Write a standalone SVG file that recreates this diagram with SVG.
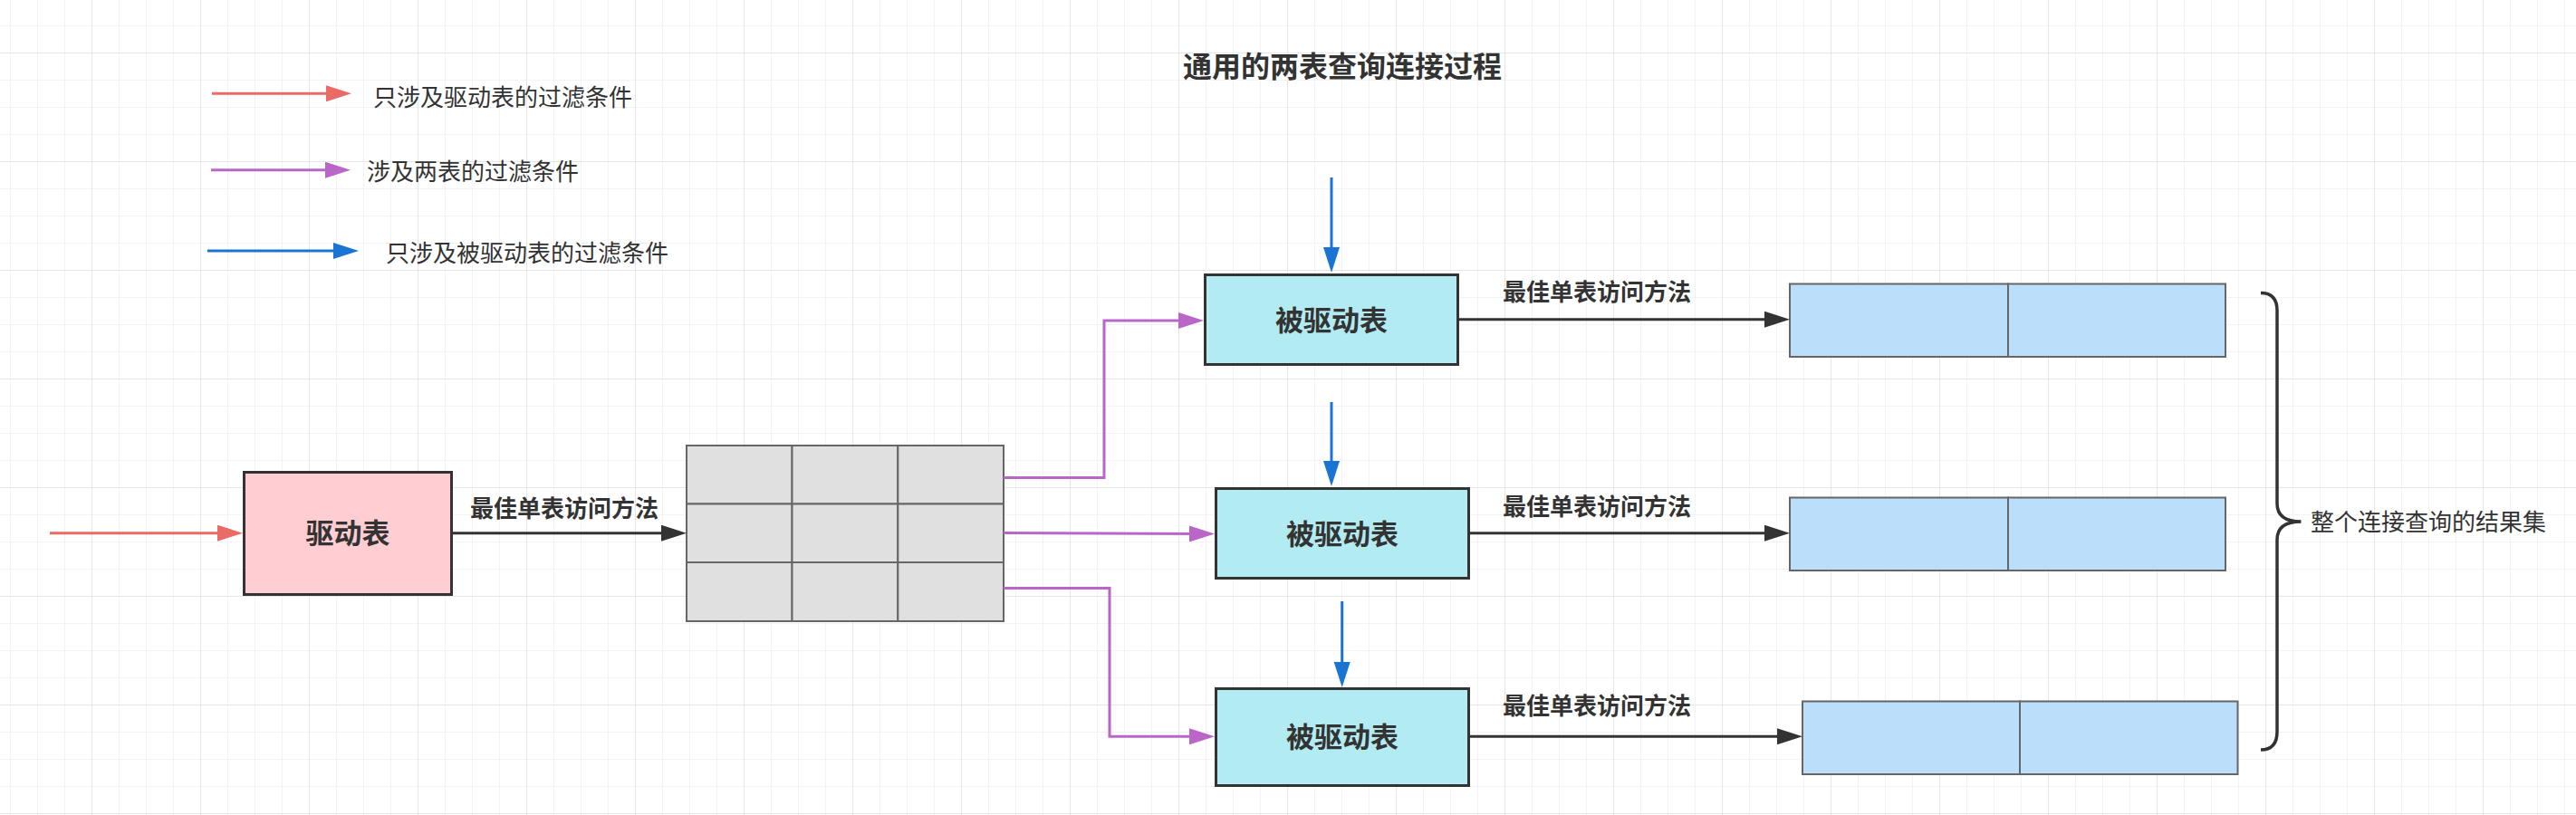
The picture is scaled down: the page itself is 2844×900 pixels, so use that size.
<svg xmlns="http://www.w3.org/2000/svg" width="2844" height="900" viewBox="0 0 2844 900">
<style>
text{font-family:"Noto Sans CJK SC","Noto Sans",sans-serif;fill:#333333}
.t26{font-size:26px}
.b26{font-size:26px;font-weight:700}
.b31{font-size:31px;font-weight:700;text-anchor:middle}
.title{font-size:32px;font-weight:700;text-anchor:middle}
.node{stroke:#333333;stroke-width:3}
.cell{fill:#e0e0e0;stroke:#666666;stroke-width:2}
.res{fill:#bbdefb;stroke:#666666;stroke-width:2}
.red{fill:none;stroke:#ea6b66;stroke-width:3;marker-end:url(#aRed)}
.pur{fill:none;stroke:#b966c8;stroke-width:3;marker-end:url(#aPur)}
.blu{fill:none;stroke:#1a74d4;stroke-width:3;marker-end:url(#aBlu)}
.blk{fill:none;stroke:#333333;stroke-width:3;marker-end:url(#aBlk)}
</style>
<defs>
<pattern id="grid" x="101" y="58" width="120" height="120" patternUnits="userSpaceOnUse">
<rect x="30" y="0" width="1" height="120" fill="#f3f3f3"/>
<rect x="60" y="0" width="1" height="120" fill="#f3f3f3"/>
<rect x="90" y="0" width="1" height="120" fill="#f3f3f3"/>
<rect x="0" y="30" width="120" height="1" fill="#f3f3f3"/>
<rect x="0" y="60" width="120" height="1" fill="#f3f3f3"/>
<rect x="0" y="90" width="120" height="1" fill="#f3f3f3"/>
<rect x="0" y="0" width="1" height="120" fill="#e6e6e6"/>
<rect x="0" y="0" width="120" height="1" fill="#e6e6e6"/>
</pattern>
<marker id="aRed" markerUnits="userSpaceOnUse" markerWidth="28" markerHeight="18" refX="18" refY="9" orient="auto"><path d="M0,0 L28,9 L0,18 z" fill="#ea6b66"/></marker>
<marker id="aPur" markerUnits="userSpaceOnUse" markerWidth="28" markerHeight="18" refX="18" refY="9" orient="auto"><path d="M0,0 L28,9 L0,18 z" fill="#b966c8"/></marker>
<marker id="aBlu" markerUnits="userSpaceOnUse" markerWidth="28" markerHeight="18" refX="18" refY="9" orient="auto"><path d="M0,0 L28,9 L0,18 z" fill="#1a74d4"/></marker>
<marker id="aBlk" markerUnits="userSpaceOnUse" markerWidth="28" markerHeight="18" refX="18" refY="9" orient="auto"><path d="M0,0 L28,9 L0,18 z" fill="#333333"/></marker>
</defs>
<rect width="2844" height="900" fill="#ffffff"/>
<rect width="2844" height="900" fill="url(#grid)"/>

<g id="title"><text class="title" x="1482" y="84.5">通用的两表查询连接过程</text></g>

<g id="legend">
<path class="red" d="M234,103.3 H378"/>
<text class="t26" x="412" y="116.6">只涉及驱动表的过滤条件</text>
<path class="pur" d="M233,187.7 H377"/>
<text class="t26" x="405" y="198.9">涉及两表的过滤条件</text>
<path class="blu" d="M229,277 H386"/>
<text class="t26" x="426" y="289.2">只涉及被驱动表的过滤条件</text>
</g>

<g id="driver">
<rect class="node" x="269.5" y="521.5" width="229" height="135" fill="#ffcdd2"/>
<text class="b31" x="384" y="600">驱动表</text>
</g>

<g id="driver-result">
<rect class="cell" x="758" y="492" width="116.5" height="64.5"/>
<rect class="cell" x="874.5" y="492" width="116.8" height="64.5"/>
<rect class="cell" x="991.3" y="492" width="116.7" height="64.5"/>
<rect class="cell" x="758" y="556.5" width="116.5" height="64.5"/>
<rect class="cell" x="874.5" y="556.5" width="116.8" height="64.5"/>
<rect class="cell" x="991.3" y="556.5" width="116.7" height="64.5"/>
<rect class="cell" x="758" y="621" width="116.5" height="65"/>
<rect class="cell" x="874.5" y="621" width="116.8" height="65"/>
<rect class="cell" x="991.3" y="621" width="116.7" height="65"/>
</g>

<g id="driven1">
<rect class="node" x="1330.5" y="303.5" width="279" height="99" fill="#b2ebf2"/>
<text class="b31" x="1470" y="364.5">被驱动表</text>
</g>
<g id="driven2">
<rect class="node" x="1342.5" y="539.5" width="279" height="99" fill="#b2ebf2"/>
<text class="b31" x="1482" y="600.5">被驱动表</text>
</g>
<g id="driven3">
<rect class="node" x="1342.5" y="760.5" width="279" height="107" fill="#b2ebf2"/>
<text class="b31" x="1482" y="825">被驱动表</text>
</g>

<g id="result1">
<rect class="res" x="1976" y="313.5" width="241" height="80.5"/>
<rect class="res" x="2217" y="313.5" width="240" height="80.5"/>
</g>
<g id="result2">
<rect class="res" x="1976" y="549.5" width="241" height="80.5"/>
<rect class="res" x="2217" y="549.5" width="240" height="80.5"/>
</g>
<g id="result3">
<rect class="res" x="1990" y="774.5" width="240" height="80.5"/>
<rect class="res" x="2230" y="774.5" width="240.5" height="80.5"/>
</g>

<g id="all-results">
<path d="M2496,323.5 Q2514,323.5 2514,343 V556 Q2514,576 2540.5,576 Q2514,576 2514,596 V808 Q2514,828 2496,828" fill="none" stroke="#333333" stroke-width="3.5"/>
<text class="t26" x="2551" y="586">整个连接查询的结果集</text>
</g>

<g id="connectors">
<path class="red" d="M55,588.7 H258"/>
<path class="blk" d="M500,588.7 H748"/>
<text class="b26" x="519" y="571">最佳单表访问方法</text>
<path class="pur" d="M1108,527.5 H1219 V354 H1319"/>
<path class="pur" d="M1108,588.6 L1331,589.5"/>
<path class="pur" d="M1108,649.6 H1225 V813.3 H1331"/>
<path class="blu" d="M1470,196 V291"/>
<path class="blu" d="M1470,444 V527"/>
<path class="blu" d="M1481.7,664 V749"/>
<path class="blk" d="M1611,352.7 H1966"/>
<path class="blk" d="M1623,588.7 H1966"/>
<path class="blk" d="M1623,813.3 H1980"/>
<text class="b26" x="1659" y="331.5">最佳单表访问方法</text>
<text class="b26" x="1659" y="569.2">最佳单表访问方法</text>
<text class="b26" x="1659" y="789.2">最佳单表访问方法</text>
</g>
</svg>
